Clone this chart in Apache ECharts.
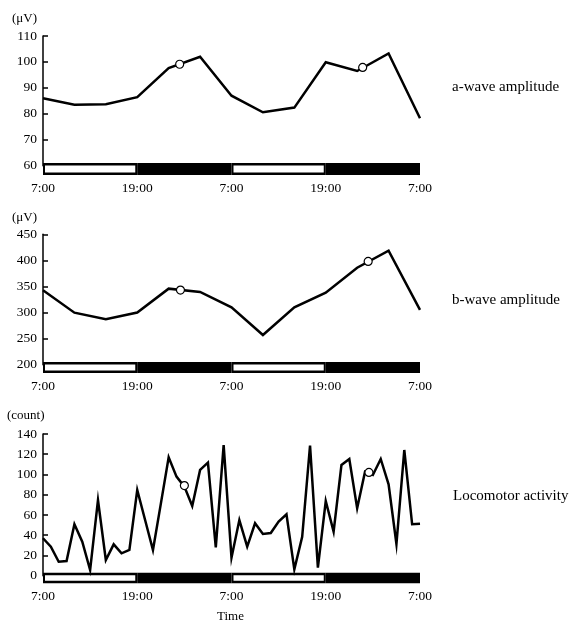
<!DOCTYPE html>
<html>
<head>
<meta charset="utf-8">
<script src="https://cdn.jsdelivr.net/npm/echarts@6/dist/echarts.min.js"></script>
<style>
  html, body { margin: 0; padding: 0; background: #fff; }
  #chart { width: 581px; height: 622px; }
</style>
</head>
<body>
<div id="chart"></div>
<script>
// hours after 7:00 of day 1
const hours4 = [0, 4, 8, 12, 16, 20, 24, 28, 32, 36, 40, 44, 48]
const aWave = [86, 83.5, 83.7, 86.4, 97.6, 102, 87, 80.6, 82.4, 99.9, 96.5, 103.3, 78.3]
const aPeaks = [[17.4, 99.1], [40.7, 97.9]]

const bWave = [342.6, 299.7, 287, 300, 345.8, 339.4, 310, 257, 310, 338, 386, 418.7, 305]
const bPeaks = [[17.5, 343], [41.4, 398]]

const hours1 = [0, 1, 2, 3, 4, 5, 6, 7, 8, 9, 10, 11, 12, 13, 14, 15, 16, 17, 18, 19, 20, 21, 22, 23, 24,
  25, 26, 27, 28, 29, 30, 31, 32, 33, 34, 35, 36, 37, 38, 39, 40, 41, 42, 43, 44, 45, 46, 47, 48]
const activity = [37, 28.7, 13.8, 14.5, 50.8, 33.6, 5.6, 74.8, 15.5, 31, 22.1, 25.4, 84.7, 55, 25.4, 71,
  117, 97.9, 88, 68.9, 104.5, 111.7, 28, 129, 17.8, 55, 28.7, 51.8, 41.2, 42.2, 53.4, 60.7, 6.3, 38.5,
  128.5, 7.9, 73.8, 43.5, 109.4, 115.3, 66.6, 102.8, 99.5, 115.3, 90.3, 31.3, 124.2, 50.8, 51.4]
const actPeaks = [[18, 89], [41.5, 102]]

// light / dark phases: [start, end, dark?]
const lightDark = [[0, 12, 0], [12, 24, 1], [24, 36, 0], [36, 48, 1]]
const timeLabels = ['7:00', '19:00', '7:00', '19:00', '7:00']

const font = 'Liberation Serif'
const zip = (xs, ys) => xs.map((x, i) => [x, ys[i]])

const myChart = echarts.init(document.getElementById('chart'))

// panel layout (pixels)
const panels = [
  { top: 36, height: 129.7, barTop: 163, barH: 12, min: 60, max: 110, step: 10 },
  { top: 234.3, height: 130.4, barTop: 362, barH: 11, min: 200, max: 450, step: 50 },
  { top: 434, height: 141.7, barTop: 572.7, barH: 10.5, min: 0, max: 140, step: 20 }
]

const grid = []
const xAxis = []
const yAxis = []
panels.forEach((p, i) => {
  // outerBoundsMode none: keep the grids exactly where they are put
  grid.push({ left: 43, width: 377, top: p.top, height: p.height, outerBoundsMode: 'none', containLabel: false })
  grid.push({ left: 43, width: 377, top: p.barTop, height: p.barH, outerBoundsMode: 'none', containLabel: false })
  xAxis.push({ type: 'value', gridIndex: i * 2, min: 0, max: 48, show: false })
  xAxis.push({
    type: 'value',
    gridIndex: i * 2 + 1,
    min: 0,
    max: 48,
    interval: 12,
    axisLine: { show: false },
    axisTick: { show: false },
    splitLine: { show: false },
    axisLabel: {
      margin: 6,
      fontFamily: font,
      fontSize: 13.5,
      color: '#000',
      formatter: v => timeLabels[v / 12]
    }
  })
  yAxis.push({
    type: 'value',
    gridIndex: i * 2,
    min: p.min,
    max: p.max,
    interval: p.step,
    axisLine: { show: true, lineStyle: { color: '#000', width: 1.5 } },
    axisTick: { show: true, inside: true, length: 5, lineStyle: { color: '#000', width: 1.5 } },
    splitLine: { show: false },
    axisLabel: { margin: 6, fontFamily: font, fontSize: 13.5, color: '#000' }
  })
  yAxis.push({ type: 'value', gridIndex: i * 2 + 1, min: 0, max: 1, show: false })
})

function renderLD (params, api) {
  const s = api.coord([api.value(0), 1])
  const e = api.coord([api.value(1), 0])
  const w = e[0] - s[0]
  const h = e[1] - s[1]
  const children = [{ type: 'rect', shape: { x: s[0], y: s[1], width: w, height: h }, style: { fill: '#000' } }]
  if (api.value(2) === 0) {
    children.push({ type: 'rect', shape: { x: s[0] + 2, y: s[1] + 2.5, width: w - 4, height: h - 5 }, style: { fill: '#fff' } })
  }
  return { type: 'group', children }
}

const lineData = [zip(hours4, aWave), zip(hours4, bWave), zip(hours1, activity)]
const peakData = [aPeaks, bPeaks, actPeaks]

const series = []
panels.forEach((p, i) => {
  series.push({
    type: 'custom',
    xAxisIndex: i * 2 + 1,
    yAxisIndex: i * 2 + 1,
    renderItem: renderLD,
    data: lightDark
  })
  series.push({
    type: 'line',
    xAxisIndex: i * 2,
    yAxisIndex: i * 2,
    data: lineData[i],
    symbol: 'none',
    lineStyle: { color: '#000', width: 2.5, join: 'miter' },
    z: 3
  })
  series.push({
    type: 'scatter',
    xAxisIndex: i * 2,
    yAxisIndex: i * 2,
    data: peakData[i],
    symbol: 'circle',
    symbolSize: 8,
    itemStyle: { color: '#fff', borderColor: '#000', borderWidth: 1.2, opacity: 1 },
    z: 4
  })
})

const textStyle = (text, x, y, size) => ({
  type: 'text',
  left: x,
  top: y,
  style: { text, fontFamily: font, fontSize: size, fill: '#000' }
})

myChart.setOption({
  animation: false,
  backgroundColor: '#fff',
  grid,
  xAxis,
  yAxis,
  series,
  graphic: [
    textStyle('(μV)', 12, 12, 13),
    textStyle('(μV)', 12, 211, 13),
    textStyle('(count)', 7, 409, 13),
    textStyle('Time', 217, 610, 13),
    textStyle('a-wave amplitude', 452, 80, 15),
    textStyle('b-wave amplitude', 452, 293, 15),
    textStyle('Locomotor activity', 453, 489, 15)
  ]
})
</script>
</body>
</html>
